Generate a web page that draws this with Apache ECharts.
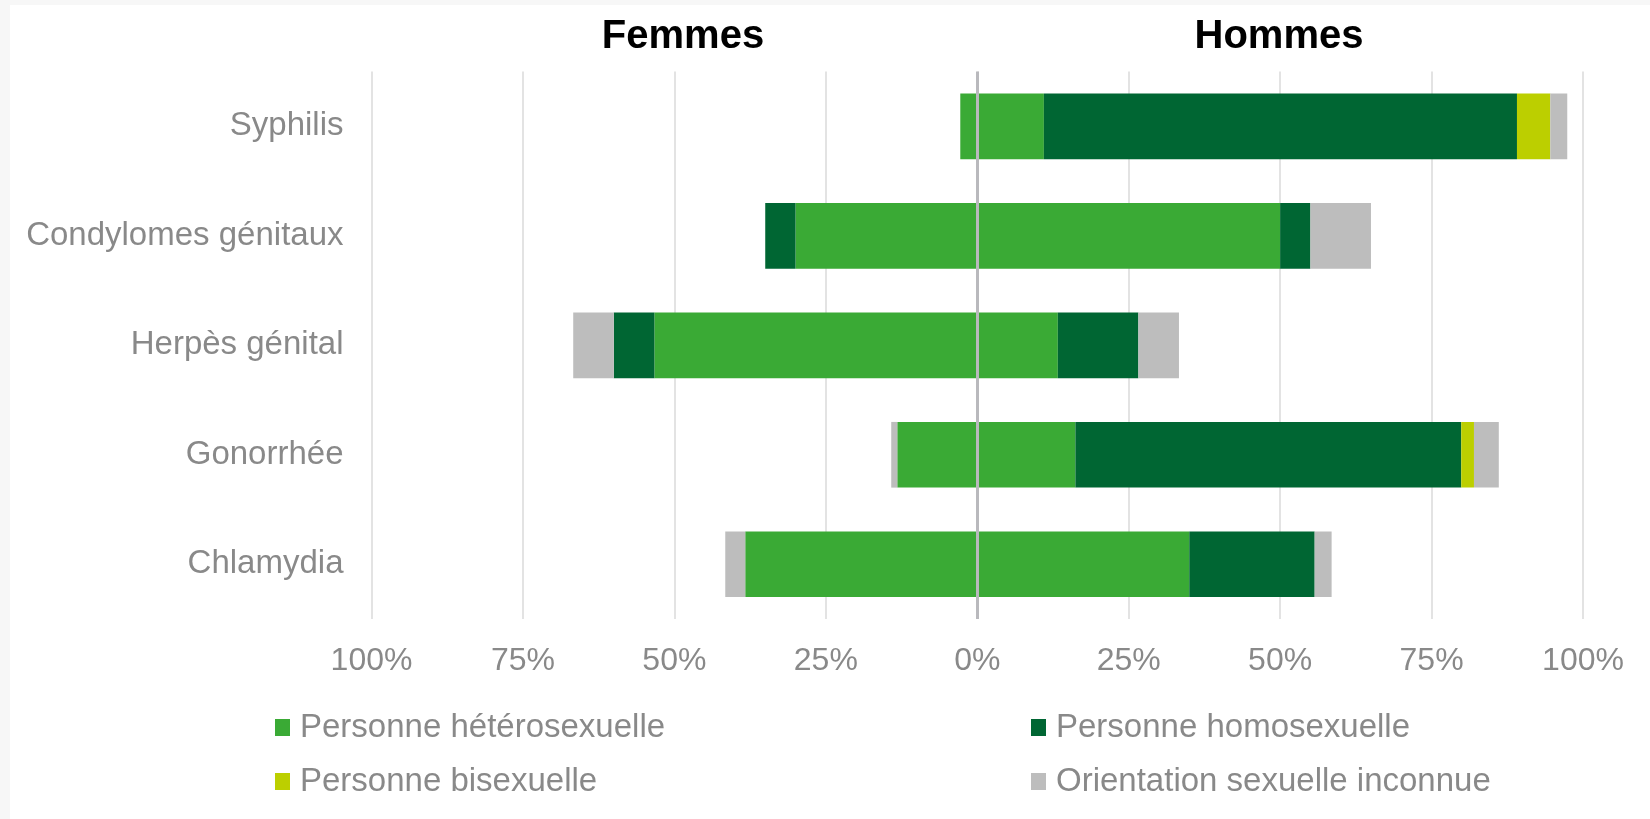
<!DOCTYPE html>
<html>
<head>
<meta charset="utf-8">
<script src="https://cdn.jsdelivr.net/npm/echarts@6/dist/echarts.min.js"></script>
<style>
  html, body { margin: 0; padding: 0; background: #fff; }
  #chart { width: 1650px; height: 819px; }
</style>
</head>
<body>
<div id="chart"></div>
<script>
const categories = ['Syphilis', 'Condylomes génitaux', 'Herpès génital', 'Gonorrhée', 'Chlamydia']
const groups = ['Personne hétérosexuelle', 'Personne homosexuelle', 'Personne bisexuelle', 'Orientation sexuelle inconnue']
const colors = ['#3aaa35', '#006633', '#bccf00', '#bdbdbd']

// parts en % (femmes a gauche, hommes a droite)
const femmesHetero = [2.8, 30.0, 53.3, 13.2, 38.3]
const femmesHomo = [0, 5.0, 6.7, 0, 0]
const femmesBi = [0, 0, 0, 0, 0]
const femmesInconnue = [0, 0, 6.7, 1.0, 3.3]

const hommesHetero = [11.0, 50.0, 13.3, 16.2, 35.0]
const hommesHomo = [78.1, 5.0, 13.3, 63.7, 20.7]
const hommesBi = [5.5, 0, 0, 2.1, 0]
const hommesInconnue = [2.8, 10.0, 6.7, 4.1, 2.8]

const tickValues = [-100, -75, -50, -25, 0, 25, 50, 75, 100]

const femmes = [femmesHetero, femmesHomo, femmesBi, femmesInconnue]
const hommes = [hommesHetero, hommesHomo, hommesBi, hommesInconnue]

const font = "'Liberation Sans', Arial, sans-serif"
const grey = '#898989'

const chart = echarts.init(document.getElementById('chart'))

const series = []
groups.forEach((name, i) => {
  series.push({
    name: name,
    type: 'bar',
    stack: 'total',
    barWidth: '60%',
    itemStyle: { color: colors[i] },
    data: femmes[i].map(v => -v)
  })
  series.push({
    name: name,
    type: 'bar',
    stack: 'total',
    barWidth: '60%',
    itemStyle: { color: colors[i] },
    data: hommes[i]
  })
})

// ligne du zero
series[0].markLine = {
  silent: true,
  symbol: 'none',
  label: { show: false },
  lineStyle: { color: '#b9b9bd', width: 3, type: 'solid' },
  data: [{ xAxis: 0 }]
}

const legendPos = [
  { left: 275, top: 711 },
  { left: 1031, top: 711 },
  { left: 275, top: 765 },
  { left: 1031, top: 765 }
]

chart.setOption({
  animation: false,
  backgroundColor: '#fff',
  graphic: [
    { type: 'rect', shape: { x: 0, y: 0, width: 10, height: 819 }, style: { fill: '#f7f7f7' }, silent: true },
    { type: 'rect', shape: { x: 0, y: 0, width: 1650, height: 5 }, style: { fill: '#f7f7f7' }, silent: true }
  ],
  title: [{
    text: 'Femmes',
    left: 678,
    top: 12,
    textAlign: 'center',
    textStyle: { fontFamily: font, fontSize: 40, fontWeight: 'bold', color: '#000' }
  }, {
    text: 'Hommes',
    left: 1274,
    top: 12,
    textAlign: 'center',
    textStyle: { fontFamily: font, fontSize: 40, fontWeight: 'bold', color: '#000' }
  }],
  legend: groups.map((name, i) => ({
    data: [name],
    left: legendPos[i].left,
    top: legendPos[i].top,
    padding: 0,
    icon: 'rect',
    itemWidth: 15,
    itemHeight: 17,
    itemGap: 0,
    selectedMode: false,
    textStyle: { fontFamily: font, fontSize: 33, color: grey, padding: [0, 0, 0, 5] }
  })),
  grid: {
    left: 371.5,
    right: 67,
    top: 71.6,
    bottom: 200
  },
  xAxis: {
    type: 'value',
    min: -100,
    max: 100,
    interval: 25,
    axisLine: { show: false },
    axisTick: { show: false },
    splitLine: { lineStyle: { color: '#e3e3e3', width: 2 } },
    axisLabel: {
      margin: 26,
      fontFamily: font,
      fontSize: 32,
      color: grey,
      customValues: tickValues,
      formatter: v => Math.abs(v) + '%'
    }
  },
  yAxis: {
    type: 'category',
    inverse: true,
    data: categories,
    axisLine: { show: false },
    axisTick: { show: false },
    axisLabel: {
      margin: 28,
      fontFamily: font,
      fontSize: 33,
      color: grey
    }
  },
  series: series
})
</script>
</body>
</html>
